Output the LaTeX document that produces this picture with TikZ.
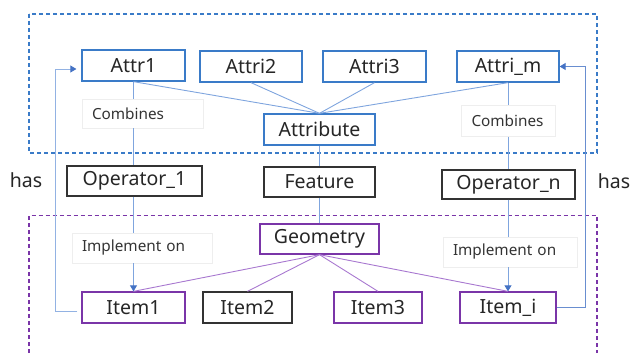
\documentclass[tikz,border=0pt]{standalone}
\usepackage{fontspec}
\setmainfont{Noto Sans}
\usetikzlibrary{arrows.meta,calc}
\definecolor{boxblue}{HTML}{3A7BC8}
\definecolor{linkblue}{HTML}{7FA5DE}
\definecolor{tipblue}{HTML}{4472C4}
\definecolor{boxpurple}{HTML}{7A35A8}
\definecolor{linkpurple}{HTML}{A878D0}
\definecolor{boxblack}{HTML}{333333}
\definecolor{lblgray}{HTML}{EEEEEE}
\begin{document}
\begin{tikzpicture}[x=1pt,y=-1pt,
  box/.style={draw, line width=1.3pt, inner sep=0pt, minimum height=31pt,
    font=\fontsize{19.5}{22}\selectfont, text=black!85},
  bluebox/.style={box, draw=boxblue},
  purplebox/.style={box, draw=boxpurple},
  blackbox/.style={box, draw=boxblack},
  lbl/.style={draw=lblgray, line width=0.6pt, fill=white, inner xsep=10pt,
    inner ysep=0pt, align=left, minimum height=30pt,
    font=\fontsize{15.3}{17}\selectfont, text=black!80},
  bluelink/.style={draw=linkblue, line width=0.9pt},
  purplelink/.style={draw=linkpurple, line width=0.9pt},
  implarrow/.style={bluelink, -{Triangle[length=6pt,width=7pt,color=tipblue]}},
  frame/.style={dashed, dash pattern=on 4pt off 3pt, line width=1.2pt},
  hastext/.style={font=\fontsize{19.5}{22}\selectfont, text=black!85}
]
\useasboundingbox (0,0) rectangle (631,353);

% dashed groups
\draw[frame, draw=boxblue] (29,14) rectangle (597,153);
\draw[frame, draw=boxpurple] (29,353) -- (29,215.5) -- (597,215.5) -- (597,353);

% attribute layer
\node[bluebox, minimum width=103pt] (attr1) at (133.5,65.5) {Attr1};
\node[bluebox, minimum width=102pt] (attr2) at (251,66.5) {Attri2};
\node[bluebox, minimum width=103pt] (attr3) at (374.5,66.5) {Attri3};
\node[bluebox, minimum width=102pt] (attrm) at (508,66.5) {Attri\_m};
\node[bluebox, minimum width=111pt] (attribute) at (319.5,129.5) {Attribute};

% operators and feature
\node[blackbox, minimum width=135pt, minimum height=30pt] (op1) at (134.5,181) {Operator\_1};
\node[blackbox, minimum width=111pt, minimum height=30pt] (feature) at (319.5,182) {Feature};
\node[blackbox, minimum width=133pt, minimum height=29pt] (opn) at (508.5,184.5) {Operator\_n};

% geometry layer
\node[purplebox, minimum width=119pt, minimum height=30pt] (geometry) at (319.5,239) {Geometry};
\node[purplebox, minimum width=103pt] (item1) at (133.5,307.5) {Item1};
\node[blackbox, minimum width=89pt] (item2) at (247.5,307.5) {Item2};
\node[purplebox, minimum width=88pt] (item3) at (378,307.5) {Item3};
\node[purplebox, minimum width=96pt] (itemi) at (508,307.5) {Item\_i};

% attribute tree
\foreach \a in {attr1,attr2,attr3,attrm}
  \draw[bluelink] (\a.south) -- (attribute.north);
\draw[bluelink] (attribute.south) -- (feature.north);
\draw[bluelink] (feature.south) -- (geometry.north);

% geometry tree
\foreach \i in {item1,item2,item3,itemi}
  \draw[purplelink] (geometry.south) -- (\i.north);

% labels on the operator paths
\node[lbl, text width=101pt, minimum width=121pt, minimum height=29pt] (comb1) at (142.5,113.5) {Combines};
\node[lbl, text width=74pt, minimum width=94pt, minimum height=31pt] (combn) at (508.5,121) {Combines};
\node[lbl, text width=120pt, minimum width=140pt] (impl1) at (142,248) {Implement on};
\node[lbl, text width=114pt, minimum width=134pt] (impln) at (510,252) {Implement on};

% operator paths
\draw[bluelink] (attr1.south) -- (attr1.south |- comb1.north);
\draw[bluelink] (attr1.south |- comb1.south) -- (attr1.south |- op1.north);
\draw[bluelink] (attr1.south |- op1.south) -- (attr1.south |- impl1.north);
\draw[implarrow] (attr1.south |- impl1.south) -- (attr1.south |- item1.north);
\draw[bluelink] (attrm.south) -- (attrm.south |- combn.north);
\draw[bluelink] (attrm.south |- combn.south) -- (attrm.south |- opn.north);
\draw[bluelink] (attrm.south |- opn.south) -- (attrm.south |- impln.north);
\draw[implarrow] (attrm.south |- impln.south) -- (attrm.south |- itemi.north);

% "has" links from items back to attributes
\coordinate (hasL) at (55,0);
\coordinate (hasR) at (585,0);
\coordinate (l0) at ([yshift=-3.5pt,xshift=-4pt]item1.west);
\coordinate (l1) at ([yshift=-3.5pt,xshift=-5pt]attr1.west);
\draw[draw=linkblue!85, line width=0.9pt,
      -{Triangle[length=6pt,width=7pt,color=tipblue]}]
  (l0) -- (l0 -| hasL) -- (hasL |- l1) -- (l1);
\draw[draw=tipblue!80, line width=0.9pt,
      -{Triangle[length=6pt,width=7pt,color=tipblue]}]
  (itemi.east) -- (itemi.east -| hasR) -- (hasR |- attrm.east) -- (attrm.east);

\node[hastext] (hasleft) at (26,180) {has};
\node[hastext] (hasright) at (614,181) {has};
\end{tikzpicture}
\end{document}
